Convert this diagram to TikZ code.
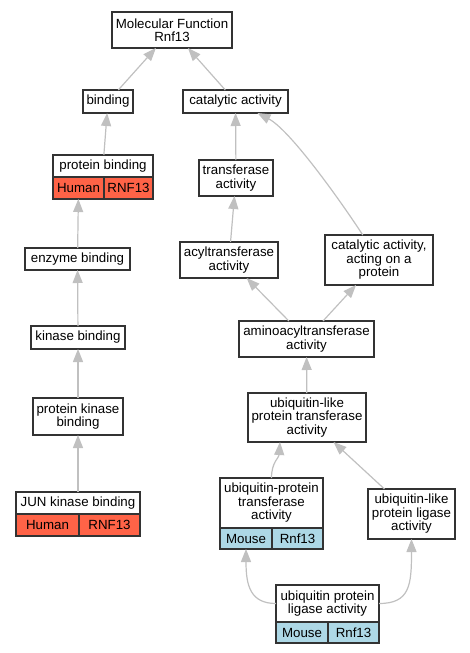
\documentclass[tikz,border=0pt]{standalone}
\usepackage{fontspec}
\setmainfont{Liberation Sans}
\usetikzlibrary{arrows.meta,positioning}
\definecolor{tomato}{RGB}{255,99,71}
\definecolor{lightblue}{RGB}{173,216,230}
\definecolor{edgegray}{RGB}{192,192,192}

\begin{document}
\begin{tikzpicture}[x=1pt, y=-1pt, >={Triangle[length=13pt,width=10pt]}, font=\fontsize{13.3}{13.5}\selectfont]

    \tikzstyle{term} = [rectangle, draw=black!80, line width=1.3pt, fill=white, align=center, inner sep=1pt, outer sep=0pt]
    \tikzstyle{human} = [term, fill=tomato, minimum height=22pt]
    \tikzstyle{mouse} = [term, fill=lightblue, minimum height=21pt]
    \tikzstyle{isa} = [->, color=edgegray, line width=1.2pt]

    \useasboundingbox (0,0) rectangle (469,653);

    \node (mf)      [term, minimum width=120pt, minimum height=36pt] at (172,30)      {Molecular Function\\Rnf13};

    \node (binding) [term, minimum width=50pt, minimum height=23pt]  at (108,101.5)   {binding};

    \node (cat)     [term, minimum width=105pt, minimum height=23pt] at (235.5,101.5) {catalytic activity};

    \node (pb)      [term, minimum width=100pt, minimum height=22pt] at (103,166)     {protein binding};
    \node (pbhuman) [human, minimum width=51pt, below right=0pt and 0pt of pb.south west] {Human};
    \node (pbgene)  [human, minimum width=49pt, below left=0pt and 0pt of pb.south east]  {RNF13};

    \node (tra)     [term, minimum width=74pt, minimum height=36pt]  at (236,178)     {transferase\\activity};

    \node (eb)      [term, minimum width=105pt, minimum height=22pt] at (77.5,259)    {enzyme binding};

    \node (acyl)    [term, minimum width=98pt, minimum height=36pt]  at (229,260)     {acyltransferase\\activity};

    \node (cop)     [term, minimum width=108pt, minimum height=50pt] at (379,260)     {catalytic activity,\\acting on a\\protein};

    \node (kb)      [term, minimum width=94pt, minimum height=23pt]  at (78,337.5)    {kinase binding};

    \node (amino)   [term, minimum width=135pt, minimum height=36pt] at (306.5,339)   {aminoacyltransferase\\activity};

    \node (pkb)     [term, minimum width=90pt, minimum height=37pt]  at (78,416.5)    {protein kinase\\binding};

    \node (ult)     [term, minimum width=118pt, minimum height=49pt] at (307,417.5)   {ubiquitin-like\\protein transferase\\activity};

    \node (jun)     [term, minimum width=124pt, minimum height=22pt] at (78,503)      {JUN kinase binding};
    \node (junhuman) [human, minimum width=63pt, below right=0pt and 0pt of jun.south west] {Human};
    \node (jungene)  [human, minimum width=61pt, below left=0pt and 0pt of jun.south east]  {RNF13};

    \node (upt)     [term, minimum width=103pt, minimum height=50pt] at (271.5,503)   {ubiquitin-protein\\transferase\\activity};
    \node (uptmouse) [mouse, minimum width=52pt, below right=0pt and 0pt of upt.south west] {Mouse};
    \node (uptgene)  [mouse, minimum width=51pt, below left=0pt and 0pt of upt.south east]  {Rnf13};

    \node (ull)     [term, minimum width=87pt, minimum height=50pt]  at (411.5,514)   {ubiquitin-like\\protein ligase\\activity};

    \node (upl)     [term, minimum width=103pt, minimum height=37pt] at (327.5,603.5) {ubiquitin protein\\ligase activity};
    \node (uplmouse) [mouse, minimum width=52pt, below right=0pt and 0pt of upl.south west] {Mouse};
    \node (uplgene)  [mouse, minimum width=51pt, below left=0pt and 0pt of upl.south east]  {Rnf13};


    \path[isa]  (binding)  edge  (mf);
    \path[isa]  (cat)      edge  (mf);
    \path[isa]  (pb)       edge  (binding);
    \path[isa]  (tra)      edge  (cat);
    \draw[isa]  (cop) .. controls (340,200) and (290,130) .. (cat);
    \path[isa]  (eb)       edge  (pbhuman);
    \path[isa]  (acyl)     edge  (tra);
    \path[isa]  (kb)       edge  (eb);
    \path[isa]  (amino)    edge  (acyl);
    \path[isa]  (amino)    edge  (cop);
    \path[isa]  (pkb)      edge  (kb);
    \path[isa]  (ult)      edge  (amino);
    \path[isa]  (jun)      edge  (pkb);
    \draw[isa]  (upt.north) .. controls (271.5,462) and (279,458) .. ([xshift=-27pt]ult.south);
    \path[isa]  (ull)      edge  (ult);
    \draw[isa]  (upl.west) .. controls (250,603.5) and (246,585) .. (uptmouse);
    \draw[isa]  (upl.east) .. controls (410,603.5) and (411.5,585) .. (ull);
\end{tikzpicture}
\end{document}
